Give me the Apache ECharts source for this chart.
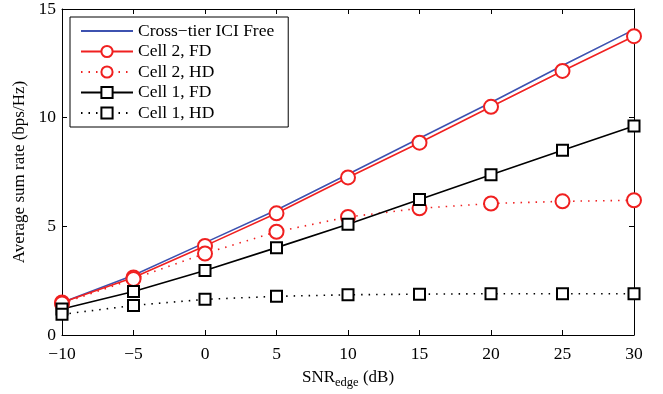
<!DOCTYPE html>
<html>
<head>
<meta charset="utf-8">
<script src="https://cdn.jsdelivr.net/npm/echarts@6/dist/echarts.min.js"></script>
<style>
html, body { margin: 0; padding: 0; background: #fff; }
#main { width: 663px; height: 394px; }
</style>
</head>
<body>
<div id="main"></div>
<script>
var chart = echarts.init(document.getElementById('main'));

var snr = [-10, -5, 0, 5, 10, 15, 20, 25, 30];
var iciFree = [1.5, 2.75, 4.25, 5.75, 7.4, 9.05, 10.7, 12.4, 14.05];
var cell2FD = [1.5, 2.65, 4.1, 5.6, 7.25, 8.85, 10.5, 12.15, 13.75];
var cell2HD = [1.45, 2.58, 3.75, 4.75, 5.43, 5.83, 6.05, 6.15, 6.2];
var cell1FD = [1.2, 2.0, 2.97, 4.02, 5.1, 6.24, 7.37, 8.5, 9.62];
var cell1HD = [0.95, 1.36, 1.64, 1.78, 1.85, 1.88, 1.9, 1.9, 1.9];

function pairs(ys) {
    return snr.map(function (x, i) { return [x, ys[i]]; });
}
function minus(v) {
    return String(v).replace('-', '\u2212');
}

var font = 'Liberation Serif';
var boxAxis = {
    axisLine: { show: true, onZero: false, lineStyle: { color: '#000', width: 1 } },
    axisTick: { show: true, inside: true, length: 5, lineStyle: { color: '#000' } },
    splitLine: { show: false }
};

var option = {
    animation: false,
    textStyle: { fontFamily: font },
    grid: { left: 62, right: 29, top: 8, bottom: 54 },
    legend: {
        left: 70, top: 17,
        orient: 'vertical',
        backgroundColor: '#fff',
        borderColor: '#000',
        borderWidth: 1,
        padding: [5, 14, 5, 10],
        itemGap: 2.5,
        itemWidth: 52,
        itemHeight: 14,
        textStyle: { fontFamily: font, fontSize: 17.5, color: '#000' },
        data: [
            { name: 'Cross\u2212tier ICI Free', itemStyle: { opacity: 0 } },
            'Cell 2, FD', 'Cell 2, HD', 'Cell 1, FD', 'Cell 1, HD'
        ]
    },
    xAxis: [Object.assign({
        type: 'value', min: -10, max: 30, interval: 5,
        axisLabel: { color: '#000', fontSize: 17.5, fontFamily: font, margin: 10, formatter: minus },
        name: 'SNR{sub|edge} (dB)',
        nameLocation: 'middle',
        nameGap: 32,
        nameTextStyle: {
            color: '#000', fontSize: 17, fontFamily: font,
            rich: { sub: { fontSize: 12.5, fontFamily: font, color: '#000', verticalAlign: 'bottom', padding: [9, 0, 0, 0] } }
        }
    }, boxAxis), Object.assign({
        type: 'value', min: -10, max: 30, interval: 5, position: 'top',
        axisLabel: { show: false }
    }, boxAxis)],
    yAxis: [Object.assign({
        type: 'value', min: 0, max: 15, interval: 5,
        axisLabel: { color: '#000', fontSize: 17.5, fontFamily: font, margin: 6 },
        name: 'Average sum rate (bps/Hz)',
        nameLocation: 'middle',
        nameGap: 32,
        nameTextStyle: { color: '#000', fontSize: 17, fontFamily: font }
    }, boxAxis), Object.assign({
        type: 'value', min: 0, max: 15, interval: 5, position: 'right',
        axisLabel: { show: false }
    }, boxAxis)],
    series: [{
        name: 'Cross\u2212tier ICI Free',
        type: 'line',
        data: pairs(iciFree),
        showSymbol: false,
        lineStyle: { color: '#3d52b0', width: 1.6 },
        itemStyle: { color: '#3d52b0' }
    }, {
        name: 'Cell 2, FD',
        type: 'line',
        data: pairs(cell2FD),
        symbol: 'emptyCircle',
        symbolSize: 14,
        lineStyle: { color: '#f02020', width: 1.6 },
        itemStyle: { color: '#f02020', borderColor: '#f02020', borderWidth: 1.6 }
    }, {
        name: 'Cell 2, HD',
        type: 'line',
        data: pairs(cell2HD),
        symbol: 'emptyCircle',
        symbolSize: 14,
        lineStyle: { color: '#f02020', width: 1.6, type: [1.5, 6] },
        itemStyle: { color: '#f02020', borderColor: '#f02020', borderWidth: 1.6 }
    }, {
        name: 'Cell 1, FD',
        type: 'line',
        data: pairs(cell1FD),
        symbol: 'emptyRect',
        symbolSize: 11,
        lineStyle: { color: '#000', width: 1.6 },
        itemStyle: { color: '#000', borderColor: '#000', borderWidth: 1.6 }
    }, {
        name: 'Cell 1, HD',
        type: 'line',
        data: pairs(cell1HD),
        symbol: 'emptyRect',
        symbolSize: 11,
        lineStyle: { color: '#000', width: 1.6, type: [1.5, 6] },
        itemStyle: { color: '#000', borderColor: '#000', borderWidth: 1.6 }
    }]
};

chart.setOption(option);
</script>
</body>
</html>
